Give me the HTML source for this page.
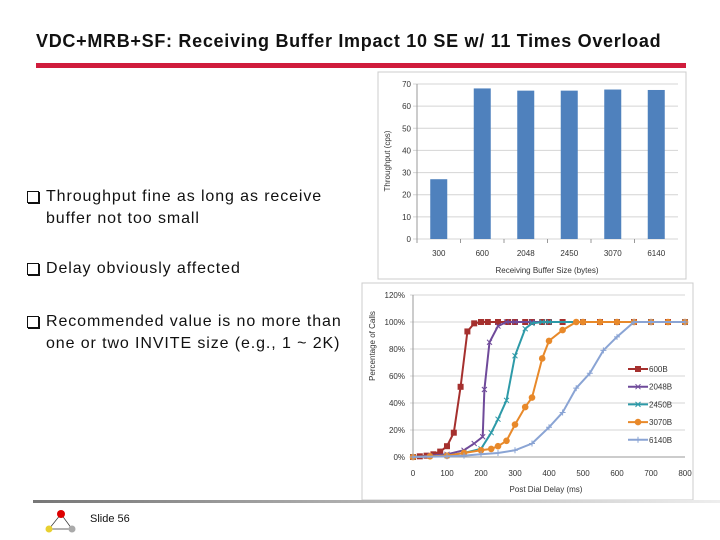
<!DOCTYPE html>
<html><head><meta charset="utf-8"><style>
body{margin:0;width:720px;height:540px;background:#fff;position:relative;overflow:hidden;font-family:"Liberation Sans",sans-serif;color:#111}
.t{position:absolute;white-space:nowrap}
.bul{position:absolute;font-size:16px;line-height:22px;left:46px;color:#111;letter-spacing:0.9px;white-space:nowrap}
.box{position:absolute;left:-19px;top:5px;width:10px;height:10px;border:1.3px solid #111;box-shadow:1px 1px 0 #111}
</style></head><body>
<div class="t" style="left:36px;top:31px;font-size:18px;font-weight:bold;color:#111;letter-spacing:0.7px">VDC+MRB+SF: Receiving Buffer Impact 10 SE w/ 11 Times Overload</div>
<div style="position:absolute;left:36px;top:63px;width:650px;height:5px;background:#d01c3c"></div>

<div class="bul" style="top:186px"><span class="box"></span>Throughput fine as long as receive<br>buffer not too small</div>
<div class="bul" style="top:258px"><span class="box"></span>Delay obviously affected</div>
<div class="bul" style="top:311px"><span class="box"></span>Recommended value is no more than<br>one or two INVITE size (e.g., 1 ~ 2K)</div>

<svg id="bar" style="position:absolute;left:0;top:0" width="720" height="540"></svg>
<svg id="line" style="position:absolute;left:0;top:0" width="720" height="540"></svg>

<div style="position:absolute;left:33px;top:500px;width:687px;height:3px;background:linear-gradient(90deg,#777,#ccc 70%,#eee)"></div>
<svg style="position:absolute;left:40px;top:508px" width="40" height="30">
<line x1="21" y1="6" x2="9" y2="21" stroke="#333" stroke-width="0.7"/><line x1="21" y1="6" x2="32" y2="21" stroke="#333" stroke-width="0.7"/><line x1="9" y1="21" x2="32" y2="21" stroke="#333" stroke-width="0.7"/>
<circle cx="21" cy="6" r="4" fill="#d00"/><circle cx="9" cy="21" r="3.5" fill="#e8d030"/><circle cx="32" cy="21" r="3.5" fill="#aaa"/></svg>
<div class="t" style="left:90px;top:513px;font-size:11px">Slide 56</div>

<script>
const NS='http://www.w3.org/2000/svg';
function mk(p,tag,a,txt){const e=document.createElementNS(NS,tag);for(const k in a)e.setAttribute(k,a[k]);if(txt!==undefined)e.textContent=txt;p.appendChild(e);return e;}

// ---- Bar chart data ----
const barCategories=['300','600','2048','2450','3070','6140'];
const barValues=[27,68,67,67,67.5,67.3];
const barTicks=[0,10,20,30,40,50,60,70];

(function(){
const s=document.getElementById('bar');
const fr=mk(s,'rect',{x:378,y:72,width:308,height:207,fill:'#fff',stroke:'#ccc'});

const L=417,R=678,T=84,B=239,max=70;
const y=v=>B-(v/max)*(B-T);
const bw=(R-L)/barCategories.length;
barTicks.forEach(t=>{
 const g=mk(s,'line',{x1:L-4,x2:R,y1:y(t),y2:y(t),stroke:'#d4d4d4','stroke-width':1});
 
 const tx=mk(s,'text',{x:L-6,y:y(t)+3,'text-anchor':'end','font-size':8,fill:'#333'},t);
 
});
mk(s,'line',{x1:L,x2:L,y1:T,y2:B,stroke:'#999'});
barCategories.forEach((c,i)=>{
 const cx=L+bw*(i+0.5);
 const r=mk(s,'rect',{x:cx-8.5,y:y(barValues[i]),width:17,height:B-y(barValues[i]),fill:'#4f81bd'});
 
 const tx=mk(s,'text',{x:cx,y:256,'text-anchor':'middle','font-size':8,fill:'#333'},c);
 
 mk(s,'line',{x1:L+bw*i,x2:L+bw*i,y1:B,y2:B+4,stroke:'#999'});
});
const xt=mk(s,'text',{x:547,y:273,'text-anchor':'middle','font-size':8,fill:'#333'},'Receiving Buffer Size (bytes)');

const yt=mk(s,'text',{x:0,y:0,'text-anchor':'middle','font-size':8,fill:'#333',transform:'translate(390,161) rotate(-90)'},'Throughput (cps)');

})();

// ---- Line chart data ----
const lineTicksY=[0,20,40,60,80,100,120];
const lineTicksX=[0,100,200,300,400,500,600,700,800];
const seriesNames=['600B','2048B','2450B','3070B','6140B'];
const s600x=[0,20,40,60,80,100,120,140,160,180,200,220,250,280,300,330,350,380,400,440,500,550,600,650,700,750,800];
const s600y=[0,0.5,1,2,4,8,18,52,93,99,100,100,100,100,100,100,100,100,100,100,100,100,100,100,100,100,100];
const s2048x=[0,50,100,150,180,205,210,225,250,275,300,350,400,500,600,700,800];
const s2048y=[0,1,2,5,10,15,50,85,97,100,100,100,100,100,100,100,100];
const s2450x=[0,100,150,200,230,250,275,300,330,350,380,400,500,600,700,800];
const s2450y=[0,1,3,6,18,28,42,75,95,99,100,100,100,100,100,100];
const s3070x=[0,50,100,150,200,230,250,275,300,330,350,380,400,440,480,500,550,600,650,700,750,800];
const s3070y=[0,0.5,1,3,5,6,8,12,24,37,44,73,86,94,100,100,100,100,100,100,100,100];
const s6140x=[0,100,150,200,250,300,350,400,440,480,520,560,600,650,700,800];
const s6140y=[0,0.5,1,2,3,5,10,22,33,51,62,79,89,100,100,100];

(function(){
const s=document.getElementById('line');
const fr=mk(s,'rect',{x:362,y:283,width:331,height:217,fill:'#fff',stroke:'#ccc'});

const L=413,R=685,T=295,B=457;
const x=v=>L+v/800*(R-L), y=v=>B-v/120*(B-T);
lineTicksY.forEach(t=>{
 const g=mk(s,'line',{x1:L-3,x2:R,y1:y(t),y2:y(t),stroke:'#d4d4d4'});
 
 const tx=mk(s,'text',{x:L-8,y:y(t)+3,'text-anchor':'end','font-size':8,fill:'#333'},t+'%');
 
});
mk(s,'line',{x1:L,x2:L,y1:T,y2:B,stroke:'#999'});
mk(s,'line',{x1:L,x2:R,y1:B,y2:B,stroke:'#999'});
lineTicksX.forEach(t=>{
 const tx=mk(s,'text',{x:x(t),y:476,'text-anchor':'middle','font-size':8,fill:'#333'},t);
 
});
const xt=mk(s,'text',{x:546,y:492,'text-anchor':'middle','font-size':8,fill:'#333'},'Post Dial Delay (ms)');

const yt=mk(s,'text',{x:0,y:0,'text-anchor':'middle','font-size':8,fill:'#333',transform:'translate(375,346) rotate(-90)'},'Percentage of Calls');

const data=[[s600x,s600y,'#a5302e','sq'],[s2048x,s2048y,'#6f4a9a','x'],[s2450x,s2450y,'#2d9aa8','x'],[s3070x,s3070y,'#e8892a','c'],[s6140x,s6140y,'#8aa4d4','p']];
function marker(g,px,py,col,m){
 if(m==='sq')mk(g,'rect',{x:px-3,y:py-3,width:6,height:6,fill:col});
 else if(m==='c')mk(g,'circle',{cx:px,cy:py,r:3.3,fill:col});
 else if(m==='x'){mk(g,'path',{d:`M${px-2.5} ${py-2.5}L${px+2.5} ${py+2.5}M${px-2.5} ${py+2.5}L${px+2.5} ${py-2.5}`,stroke:col,'stroke-width':1});}
 else mk(g,'path',{d:`M${px-3} ${py}H${px+3}M${px} ${py-3}V${py+3}`,stroke:col,'stroke-width':1});
}
data.forEach((d,k)=>{
 const g=mk(s,'g',{});
 
 
 const pts=d[0].map((v,i)=>x(v)+','+y(d[1][i])).join(' ');
 mk(g,'polyline',{points:pts,fill:'none',stroke:d[2],'stroke-width':2});
 d[0].forEach((v,i)=>marker(g,x(v),y(d[1][i]),d[2],d[3]));
 const ly=369+k*17.7;
 const lg=mk(s,'g',{});
 
 
 mk(lg,'line',{x1:628,x2:648,y1:ly,y2:ly,stroke:d[2],'stroke-width':2});
 marker(lg,638,ly,d[2],d[3]);
 mk(lg,'text',{x:649,y:ly+3,'font-size':8,fill:'#333'},seriesNames[k]);
});
})();
</script>
</body></html>
